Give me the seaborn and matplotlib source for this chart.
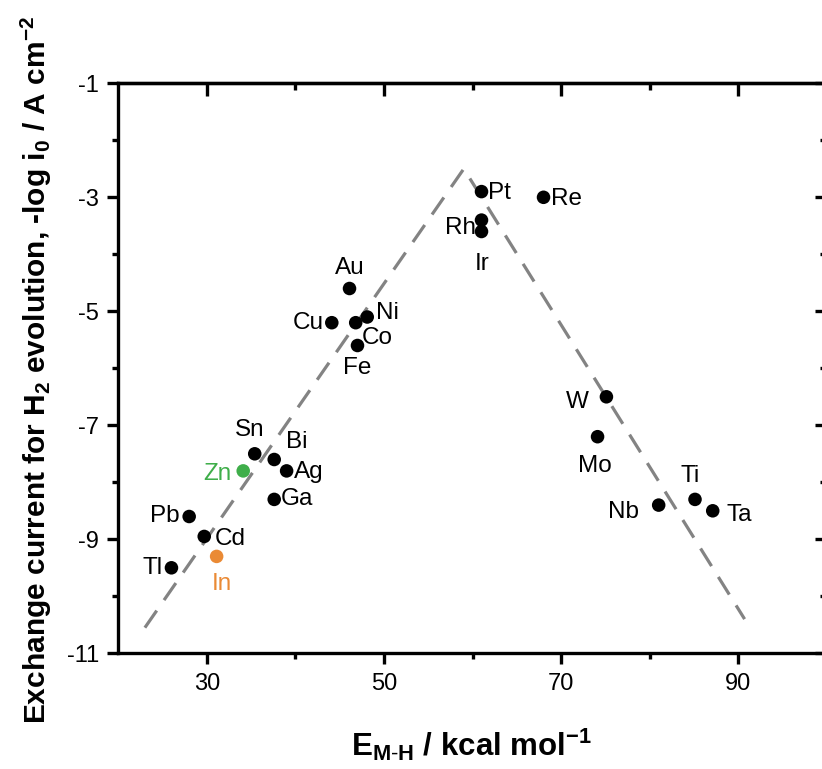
import matplotlib
matplotlib.use("Agg")
import matplotlib.pyplot as plt
import seaborn as sns
import pandas as pd
import numpy as np

# ---- data ----
metals = ["Tl", "Pb", "Cd", "In", "Zn", "Sn", "Bi", "Ag", "Ga", "Au", "Cu", "Co",
          "Ni", "Fe", "Pt", "Rh", "Ir", "Re", "W", "Mo", "Nb", "Ti", "Ta"]
e_mh = [26.0, 28.0, 29.7, 31.1, 34.1, 35.4, 37.6, 39.0, 37.6, 46.1, 44.1, 46.8,
        48.1, 47.0, 61.0, 61.0, 61.0, 68.0, 75.1, 74.1, 81.0, 85.1, 87.1]
log_i0 = [-9.5, -8.6, -8.95, -9.3, -7.8, -7.5, -7.6, -7.8, -8.3, -4.6, -5.2, -5.2,
          -5.1, -5.6, -2.9, -3.4, -3.6, -3.0, -6.5, -7.2, -8.4, -8.3, -8.5]
groups = ["other"] * 3 + ["In", "Zn"] + ["other"] * 18
volcano_x = [23.0, 59.0, 90.7]
volcano_y = [-10.55, -2.5, -10.4]
x_ticks = [30, 50, 70, 90]
y_ticks = [-1, -3, -5, -7, -9, -11]
x_minor = [40, 60, 80]
y_minor = [-2, -4, -6, -8, -10]

# label offsets (pixels) and alignment
label_pos = {
    "Tl": (-9, 0, "right", "center"),
    "Pb": (-10, 0, "right", "center"),
    "Cd": (11, -3, "left", "center"),
    "In": (5, -28, "center", "center"),
    "Zn": (-12, -3, "right", "center"),
    "Sn": (-5, 24, "center", "center"),
    "Bi": (23, 17, "center", "center"),
    "Ag": (7, -1, "left", "center"),
    "Ga": (7, 0, "left", "center"),
    "Au": (0, 20, "center", "center"),
    "Cu": (-8, 0, "right", "center"),
    "Co": (6, -15, "left", "center"),
    "Ni": (9, 4, "left", "center"),
    "Fe": (0, -23, "center", "center"),
    "Pt": (6, -1, "left", "center"),
    "Rh": (-6, -8, "right", "center"),
    "Ir": (1, -32, "center", "center"),
    "Re": (7, -2, "left", "center"),
    "W": (-18, -5, "right", "center"),
    "Mo": (-3, -29, "center", "center"),
    "Nb": (-20, -7, "right", "center"),
    "Ti": (-5, 23, "center", "center"),
    "Ta": (14, -4, "left", "center"),
}
colors = {"other": "#000000", "Zn": "#3fae4a", "In": "#ea8a35"}

df = pd.DataFrame({"metal": metals, "E": e_mh, "logi0": log_i0, "group": groups})
line_df = pd.DataFrame({"E": volcano_x, "logi0": volcano_y})

sns.set_theme(style="ticks")
plt.rcParams["font.family"] = ["Liberation Sans", "DejaVu Sans"]
plt.rcParams["mathtext.fontset"] = "custom"
plt.rcParams["mathtext.rm"] = "Liberation Sans"
plt.rcParams["mathtext.bf"] = "Liberation Sans:bold"
plt.rcParams["mathtext.it"] = "Liberation Sans:italic"
plt.rcParams["axes.unicode_minus"] = False
plt.rcParams["text.color"] = "black"
plt.rcParams["xtick.color"] = "black"
plt.rcParams["ytick.color"] = "black"
plt.rcParams["axes.labelcolor"] = "black"

fig = plt.figure(figsize=(8.22, 7.69), dpi=100)
ax = fig.add_axes([118.3 / 822, (769 - 653.3) / 769, (827 - 118.3) / 822, (653.3 - 83.3) / 769])

sns.lineplot(data=line_df, x="E", y="logi0", ax=ax, color="#838383", lw=2.3,
             dashes=False, zorder=1, sort=False)
ax.lines[-1].set_dashes([6.5, 4])

sns.scatterplot(data=df, x="E", y="logi0", hue="group", palette=colors, ax=ax,
                s=95, edgecolor="none", legend=False, zorder=3)

for m, x, y, g in zip(metals, e_mh, log_i0, groups):
    dx, dy, ha, va = label_pos[m]
    ax.annotate(m, (x, y), xytext=(dx, dy), textcoords="offset pixels",
                ha=ha, va=va, fontsize=17.5, color=colors[g])

ax.set_xlim(20, 100)
ax.set_ylim(-11, -1)
ax.set_xticks(x_ticks)
ax.set_yticks(y_ticks)
ax.set_xticks(x_minor, minor=True)
ax.set_yticks(y_minor, minor=True)
ax.tick_params(axis="both", which="major", length=8, width=2.4, labelsize=17,
               direction="out", pad=6, colors="black")
ax.tick_params(axis="both", which="minor", length=4, width=2.4, direction="out")
for side in ["left", "right", "top", "bottom"]:
    ax.spines[side].set_linewidth(2.4)
    ax.spines[side].set_color("black")

# mirrored axes with inward ticks
top = ax.secondary_xaxis("top")
top.set_xticks(x_ticks)
top.set_xticks(x_minor, minor=True)
top.tick_params(which="major", direction="in", length=9, width=2.4, labeltop=False,
                color="black")
top.tick_params(which="minor", direction="in", length=5, width=2.4, color="black")
top.spines["top"].set_linewidth(2.4)
right = ax.secondary_yaxis("right")
right.set_yticks(y_ticks)
right.set_yticks(y_minor, minor=True)
right.tick_params(which="major", direction="in", length=9, width=2.4, labelright=False,
                  color="black")
right.tick_params(which="minor", direction="in", length=5, width=2.4, color="black")
right.spines["right"].set_linewidth(2.4)

ax.set_xlabel("")
ax.set_ylabel("")
fig.text(36 / 822, 1 - 370 / 769,
         r"Exchange current for H$_\mathbf{2}$ evolution, -log i$_\mathbf{0}$ / A cm$^\mathbf{-2}$",
         rotation=90, ha="center", va="center", fontsize=21.5, fontweight="bold")
fig.text(471 / 822, 1 - 745 / 769,
         r"E$_\mathbf{M\text{-}H}$ / kcal mol$^\mathbf{-1}$",
         ha="center", va="center", fontsize=22.5, fontweight="bold")

fig.savefig("out.png", dpi=100, facecolor="white")
